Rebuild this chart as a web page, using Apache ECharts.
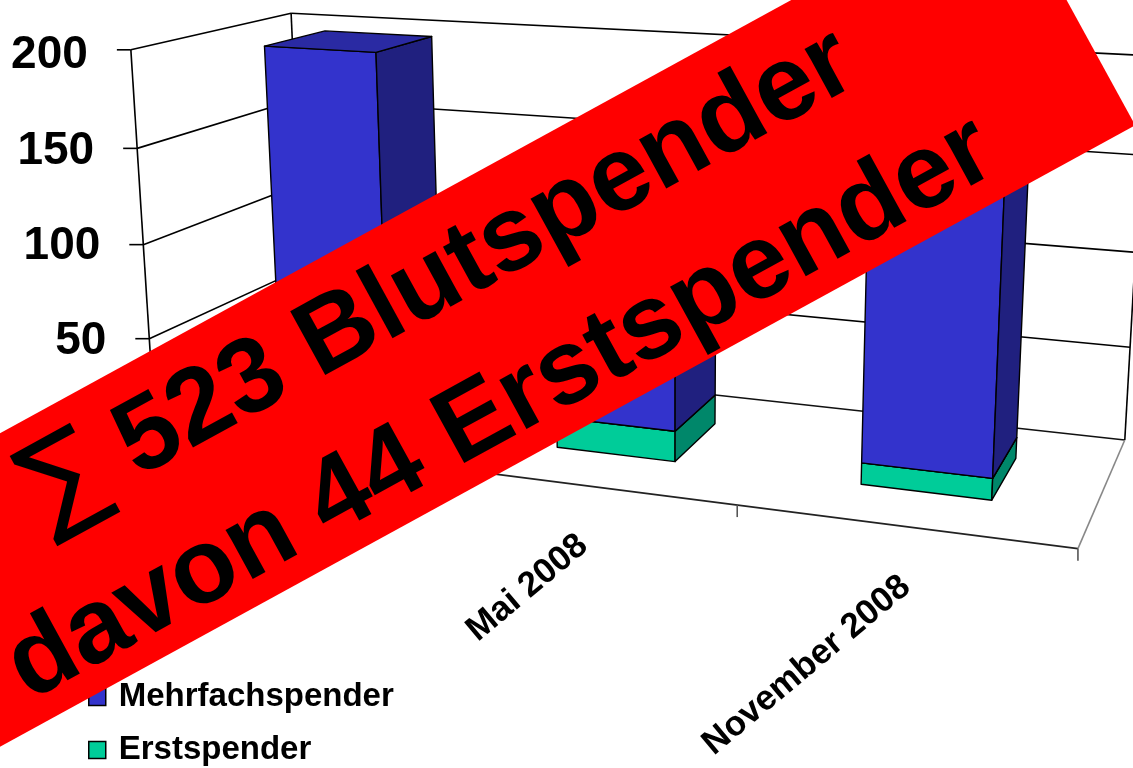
<!DOCTYPE html>
<html>
<head>
<meta charset="utf-8">
<title>Blutspender</title>
<script src="https://cdn.jsdelivr.net/npm/echarts@6/dist/echarts.min.js"></script>
<style>
  html, body { margin: 0; padding: 0; background: #fff; }
  #chart { width: 1133px; height: 768px; }
</style>
</head>
<body>
<div id="chart"></div>
<script>
  // Daten
  const categories = ['November 2007', 'Mai 2008', 'November 2008'];
  const mehrfachspender = [181, 132, 166];
  const erstspender = [17, 16, 11];
  const yTicks = [0, 50, 100, 150, 200];
  const bannerLines = ['\u2211 523 Blutspender', 'davon 44 Erstspender'];

  // 3D-Rahmen: Weltpunkte [X, Y(0..1), Z] -> Bildpunkte, daraus wird die Perspektive geschätzt
  const FIT_POINTS = [
    [0, 1, 0, 132, 50], [0, 0.75, 0, 137, 148], [0, 0.5, 0, 143, 245], [0, 0.25, 0, 149, 338],
    [0, 0, 0, 155, 430], [0, 1, 1, 290, 10], [0, 0.75, 1, 296, 104],
    [2, 0, 0, 737, 506], [3, 0, 0, 1078, 549], [3, 0, 1, 1125, 438],
    [3, 1, 1, 1146, 55], [3, 0.5, 1, 1136, 254]
  ];
  const BAR_HALF = 0.2, Z_FRONT = 0.3, Z_BACK = 0.7;
  const LABEL_FONT = 'bold 35px "Liberation Sans", Arial, sans-serif';
  const LABEL_ROT = 40 * Math.PI / 180;
  const BANNER_FONT = 'bold 106px "Liberation Sans", Arial, sans-serif';
  const SIGMA_FONT = 'normal 112px "DejaVu Sans", "Liberation Sans", sans-serif';
  const faceColors = {
    Mehrfachspender: { front: '#3333CC', side: '#20207F', top: '#2A2AA3' },
    Erstspender: { front: '#00CC99', side: '#00876A', top: '#00A67C' }
  };

  function fitCamera(pts) {
    const A = [], b = [];
    pts.forEach(([X, Y, Z, u0, v0]) => {
      const u = u0 / 1000, v = v0 / 1000;
      A.push([X, Y, Z, 1, 0, 0, 0, 0, -u * X, -u * Y, -u * Z]); b.push(u);
      A.push([0, 0, 0, 0, X, Y, Z, 1, -v * X, -v * Y, -v * Z]); b.push(v);
    });
    const n = 11, M = [];
    for (let i = 0; i < n; i++) {
      const row = [];
      for (let j = 0; j < n; j++) {
        let s = 0;
        for (let k = 0; k < A.length; k++) s += A[k][i] * A[k][j];
        row.push(s);
      }
      let s = 0;
      for (let k = 0; k < A.length; k++) s += A[k][i] * b[k];
      row.push(s);
      M.push(row);
    }
    for (let c = 0; c < n; c++) {
      let piv = c;
      for (let r = c + 1; r < n; r++) if (Math.abs(M[r][c]) > Math.abs(M[piv][c])) piv = r;
      [M[c], M[piv]] = [M[piv], M[c]];
      for (let r = 0; r < n; r++) {
        if (r === c) continue;
        const f = M[r][c] / M[c][c];
        for (let k = c; k <= n; k++) M[r][k] -= f * M[c][k];
      }
    }
    return M.map((row, i) => row[n] / row[i]);
  }
  const CAM = fitCamera(FIT_POINTS);

  function project(X, Y, Z) {
    const P = CAM;
    const w = P[8] * X + P[9] * Y + P[10] * Z + 1;
    return [1000 * (P[0] * X + P[1] * Y + P[2] * Z + P[3]) / w,
            1000 * (P[4] * X + P[5] * Y + P[6] * Z + P[7]) / w];
  }

  const yMax = yTicks[yTicks.length - 1];
  const xMax = categories.length;

  // Pixel aus den ECharts-Achsen -> Weltkoordinaten (X in Kategorien, Y 0..1)
  function toWorld(api, cat, val) {
    const pt = api.coord([cat, val]);
    const base = api.coord([0, 0]);
    const top = api.coord([0, yMax]);
    const band = api.size([1, 0])[0];
    return [(pt[0] - base[0]) / band + 0.5, (base[1] - pt[1]) / (base[1] - top[1])];
  }

  function poly(points, fill) {
    return { type: 'polygon', shape: { points: points },
      style: { fill: fill, stroke: '#000', lineWidth: 1.4, lineJoin: 'round' } };
  }

  function renderBar(params, api) {
    const cat = api.value(0);
    const w0 = toWorld(api, cat, api.value(1));
    const w1 = toWorld(api, cat, api.value(2));
    const xl = w0[0] - BAR_HALF, xr = w0[0] + BAR_HALF;
    const yb = w0[1], yt = w1[1];
    const c = faceColors[params.seriesName];
    return {
      type: 'group',
      children: [
        poly([project(xl, yb, Z_FRONT), project(xr, yb, Z_FRONT), project(xr, yt, Z_FRONT), project(xl, yt, Z_FRONT)], c.front),
        poly([project(xr, yb, Z_FRONT), project(xr, yb, Z_BACK), project(xr, yt, Z_BACK), project(xr, yt, Z_FRONT)], c.side),
        poly([project(xl, yt, Z_FRONT), project(xr, yt, Z_FRONT), project(xr, yt, Z_BACK), project(xl, yt, Z_BACK)], c.top)
      ]
    };
  }

  function renderFrame(params, api) {
    const ch = [];
    const line = (a, b, color) => ch.push({ type: 'line',
      shape: { x1: a[0], y1: a[1], x2: b[0], y2: b[1] },
      style: { stroke: color || '#000', lineWidth: 1.6 } });

    // Gitterlinien an Seiten- und Rückwand, Striche an der Y-Achse
    yTicks.forEach(t => {
      const y = toWorld(api, 0, t)[1];
      const a = project(0, y, 0), b = project(0, y, 1), c = project(xMax, y, 1);
      if (t > 0) { line(a, b); line(b, c); }
      line([a[0] - 14, a[1]], a);
    });
    // Boden und Kanten
    line(project(0, 0, 0), project(xMax, 0, 0), '#222');
    line(project(0, 0, 0), project(0, 0, 1), '#222');
    line(project(0, 0, 1), project(xMax, 0, 1), '#111');
    line(project(xMax, 0, 0), project(xMax, 0, 1), '#888');
    line(project(0, 0, 0), project(0, 1, 0));
    line(project(0, 0, 1), project(0, 1, 1));
    line(project(xMax, 0, 1), project(xMax, 1, 1));

    // Kategorie-Striche und Beschriftung
    for (let i = 0; i <= xMax; i++) {
      const a = project(toWorld(api, i, 0)[0] - 0.5, 0, 0);
      line(a, [a[0], a[1] + 12], '#555');
    }
    categories.forEach((name, i) => {
      const a = project(toWorld(api, i, 0)[0], 0, 0);
      ch.push({ type: 'text', x: a[0] + 3, y: a[1] + 56, rotation: LABEL_ROT,
        style: { text: name, font: LABEL_FONT, align: 'right', verticalAlign: 'middle', fill: '#000' } });
    });
    return { type: 'group', children: ch };
  }

  // Y-Beschriftung folgt der schrägen Achse: Abstand nach rechts je Wert
  const GRID_LEFT = 112, LABEL_MARGIN = 5;
  const yRich = {};
  yTicks.forEach(t => {
    const ax = project(0, t / yMax, 0)[0];
    yRich['l' + t] = {
      fontFamily: 'Liberation Sans', fontWeight: 'bold', fontSize: 46, color: '#000',
      padding: [0, Math.max(0, (GRID_LEFT - LABEL_MARGIN) - (ax - 43)), 0, 0]
    };
  });

  // Banner: Summenzeichen dünn, Rest fett
  const firstLine = '{s|' + bannerLines[0].charAt(0) + '}{b|' + bannerLines[0].slice(1) + '}';

  const myChart = echarts.init(document.getElementById('chart'));
  myChart.setOption({
    animation: false,
    backgroundColor: '#fff',
    grid: { left: GRID_LEFT, right: 60, top: 55.5, bottom: 331, show: false },
    xAxis: { type: 'category', data: categories, show: false },
    yAxis: {
      type: 'value', min: 0, max: yMax, interval: 50,
      axisLine: { show: false }, axisTick: { show: false }, splitLine: { show: false },
      axisLabel: { margin: LABEL_MARGIN, formatter: v => '{l' + v + '|' + v + '}', rich: yRich }
    },
    legend: {
      orient: 'vertical', left: 88, top: 679, padding: 0, height: 100,
      itemWidth: 17, itemHeight: 17, itemGap: 17,
      selectedMode: false,
      textStyle: { fontFamily: 'Liberation Sans', fontWeight: 'bold', fontSize: 33, color: '#000',
        lineHeight: 36, padding: [0, 0, 0, 8] },
      data: [
        { name: 'Mehrfachspender', icon: 'rect', itemStyle: { color: '#3333CC', borderColor: '#000', borderWidth: 1.5 } },
        { name: 'Erstspender', icon: 'rect', itemStyle: { color: '#00CC99', borderColor: '#000', borderWidth: 1.5 } }
      ]
    },
    series: [
      {
        name: 'Rahmen', type: 'custom', silent: true, clip: false, z: 1,
        renderItem: renderFrame, data: [[0, 0]]
      },
      {
        name: 'Erstspender', type: 'custom', clip: false, z: 2,
        itemStyle: { color: '#00CC99' },
        encode: { x: 0, y: [1, 2] },
        renderItem: renderBar,
        data: categories.map((c, i) => [i, 0, erstspender[i]])
      },
      {
        name: 'Mehrfachspender', type: 'custom', clip: false, z: 2,
        itemStyle: { color: '#3333CC' },
        encode: { x: 0, y: [1, 2] },
        renderItem: renderBar,
        data: categories.map((c, i) => [i, erstspender[i], erstspender[i] + mehrfachspender[i]])
      }
    ],
    graphic: [{
      type: 'group', x: 461, y: 337, rotation: 28.7 * Math.PI / 180, z: 100, zlevel: 1,
      children: [
        { type: 'rect', z: 100, zlevel: 1, shape: { x: -1200, y: -137, width: 1893, height: 275 }, style: { fill: '#FF0000' } },
        { type: 'text', z: 101, zlevel: 1, x: 9, y: -61, style: {
          text: firstLine, fill: '#000', align: 'center', verticalAlign: 'middle',
          rich: { s: { font: SIGMA_FONT, fill: '#000' }, b: { font: BANNER_FONT, fill: '#000' } } } },
        { type: 'text', z: 101, zlevel: 1, x: 0, y: 83, style: { text: bannerLines[1], font: BANNER_FONT,
          fill: '#000', align: 'center', verticalAlign: 'middle' } }
      ]
    }]
  });
</script>
</body>
</html>
